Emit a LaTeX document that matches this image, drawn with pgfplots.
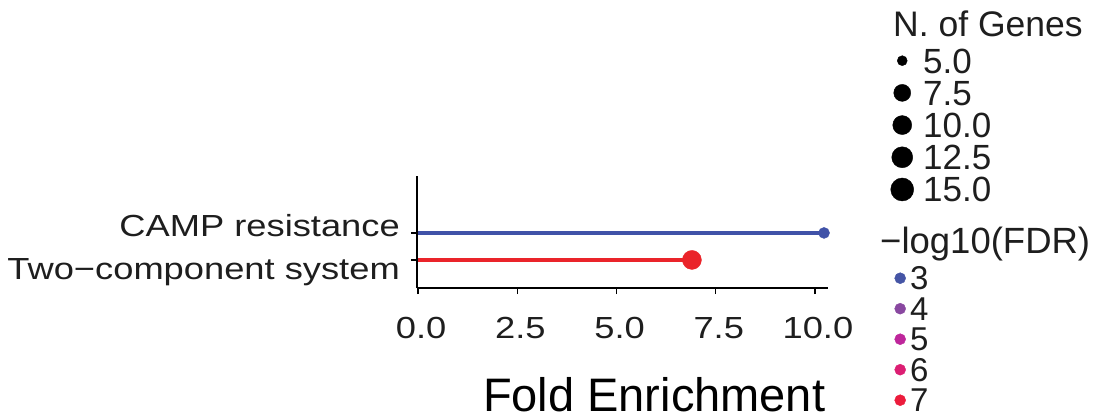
\documentclass[border=0pt]{standalone}
\usepackage{pgfplots}
\pgfplotsset{compat=1.18}
\usepackage{fontspec}
\setmainfont{Liberation Sans}
\newfontfamily\wide[FakeStretch=1.19]{Liberation Sans}
\definecolor{cBlue}{RGB}{64,82,168}
\definecolor{cRed}{RGB}{234,36,42}
\definecolor{f3}{RGB}{69,85,165}
\definecolor{f4}{RGB}{137,72,160}
\definecolor{f5}{RGB}{190,38,155}
\definecolor{f6}{RGB}{220,30,115}
\definecolor{f7}{RGB}{236,28,60}
\definecolor{txt}{RGB}{30,30,30}
\newcommand{\fs}[1]{\fontsize{#1bp}{#1bp}\selectfont}
\begin{document}
\begin{tikzpicture}
\useasboundingbox (0,0) rectangle (1093bp,420bp);
\begin{axis}[
  scale only axis,
  width=411bp, height=112bp,
  at={(417bp,132bp)}, anchor=south west,
  xmin=-0.03, xmax=10.33,
  ymin=-0.04, ymax=4.11,
  axis x line*=bottom, axis y line*=left,
  axis line style={line width=1.6bp, black, -},
  xtick={0,2.5,5,7.5,10},
  xticklabels={0.0,2.5,5.0,7.5,10.0},
  ytick={1,2},
  yticklabels={\raisebox{-20bp}{Two−component system}, \raisebox{-3.5bp}{CAMP resistance}},
  tick style={line width=1.4bp, black},
  major tick length=6bp,
  tick align=outside,
  xticklabel style={font=\wide\fs{30.5}, text=txt, inner sep=0pt, yshift=-23bp, xshift=3bp},
  yticklabel style={font=\wide\fs{30.5}, text=txt, inner sep=0pt, anchor=base east, xshift=-11bp},
  xlabel={Fold Enrichment},
  xlabel style={font=\fs{47}, text=black, at={(axis description cs:0.577,-0.955)}, anchor=center},
  clip=false,
]
\addplot[cRed, line width=4.5bp] coordinates {(0,1) (6.90,1)};
\addplot[cRed, only marks, mark=*, mark size=9.5bp] coordinates {(6.90,1)};
\addplot[cBlue, line width=4.5bp] coordinates {(0,2) (10.23,2)};
\addplot[cBlue, only marks, mark=*, mark size=5.5bp] coordinates {(10.23,2)};
\end{axis}
\node[anchor=base west, font=\fs{35.5}, text=txt, inner sep=0pt] at (893bp,383.5bp) {N. of Genes};
\node[anchor=base west, font=\fs{36.5}, text=txt, inner sep=0pt] at (880bp,166bp) {−log10(FDR)};
\begin{axis}[
  hide axis, scale only axis, width=1093bp, height=420bp,
  at={(0bp,0bp)}, anchor=south west,
  xmin=0, xmax=1, ymin=0, ymax=1,
  legend image code/.code={\path[draw=none,fill=none] (-12bp,0bp) (12bp,0bp); \draw[#1] plot coordinates {(0bp,0bp)};},
  legend style={draw=none, fill=none, inner sep=0pt, row sep=0pt, column sep=9bp,
    font=\fs{35}, text=txt, at={(0.8143,0.8943)}, anchor=north west,
    nodes={inner sep=0pt, text height=28.6bp, text depth=3.6bp}},
  legend cell align=left,
]
\addlegendimage{black, mark=*, mark size=5bp}
\addlegendentry{5.0}
\addlegendimage{black, mark=*, mark size=8.5bp}
\addlegendentry{7.5}
\addlegendimage{black, mark=*, mark size=9.5bp}
\addlegendentry{10.0}
\addlegendimage{black, mark=*, mark size=10.5bp}
\addlegendentry{12.5}
\addlegendimage{black, mark=*, mark size=11.5bp}
\addlegendentry{15.0}
\end{axis}
\begin{axis}[
  hide axis, scale only axis, width=1093bp, height=420bp,
  at={(0bp,0bp)}, anchor=south west,
  xmin=0, xmax=1, ymin=0, ymax=1,
  legend image code/.code={\path[draw=none,fill=none] (-6bp,0bp) (6bp,0bp); \draw[#1] plot coordinates {(0bp,0bp)};},
  legend style={draw=none, fill=none, inner sep=0pt, row sep=0pt, column sep=4bp,
    font=\fs{33}, text=txt, at={(0.8179,0.3744)}, anchor=north west,
    nodes={inner sep=0pt, text height=26.9bp, text depth=3.6bp}},
  legend cell align=left,
]
\addlegendimage{f3, mark=*, mark size=5.5bp}
\addlegendentry{3}
\addlegendimage{f4, mark=*, mark size=5.5bp}
\addlegendentry{4}
\addlegendimage{f5, mark=*, mark size=5.5bp}
\addlegendentry{5}
\addlegendimage{f6, mark=*, mark size=5.5bp}
\addlegendentry{6}
\addlegendimage{f7, mark=*, mark size=5.5bp}
\addlegendentry{7}
\end{axis}
\end{tikzpicture}
\end{document}
